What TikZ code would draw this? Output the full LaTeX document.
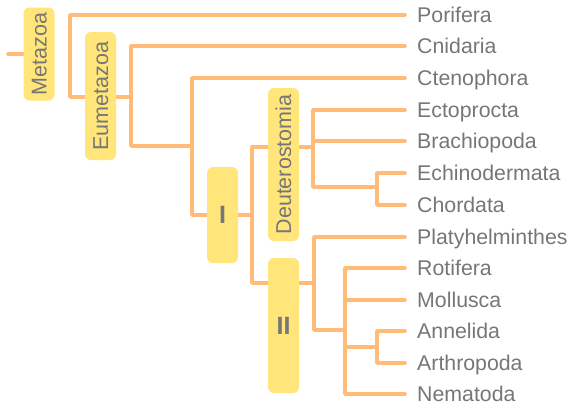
\documentclass[tikz,border=0pt]{standalone}
\usepackage{fontspec}
\setmainfont{Liberation Sans}
\usetikzlibrary{backgrounds}
\definecolor{branchc}{HTML}{FFBB78}
\definecolor{boxc}{HTML}{FFE57A}
\definecolor{textc}{HTML}{767676}
\tikzset{
  branch/.style={draw=branchc, line width=3.5pt, line cap=round, line join=round},
  leaf/.style={anchor=west, inner xsep=12pt, inner ysep=0pt, text height=15pt, text depth=0pt, text=textc, font=\fontsize{21.3}{21.3}\selectfont},
  clade/.style={fill=boxc, rounded corners=6pt, rotate=90, minimum height=31pt, inner sep=0pt, text height=15pt, text depth=0pt, text=textc, font=\fontsize{21.5}{21.5}\selectfont},
  roman/.style={fill=boxc, rounded corners=6pt, minimum width=31pt, inner sep=0pt, text=textc, font=\fontsize{25}{25}\selectfont\bfseries}
}
\begin{document}
\begin{tikzpicture}[x=1pt,y=-1pt]
\useasboundingbox (0,0) rectangle (569,410);
% leaves
\node[leaf] (Por) at (405,15) {Porifera};
\node[leaf] (Cni) at (405,46) {Cnidaria};
\node[leaf] (Cte) at (405,78) {Ctenophora};
\node[leaf] (Ect) at (405,110) {Ectoprocta};
\node[leaf] (Bra) at (405,141) {Brachiopoda};
\node[leaf] (Ech) at (405,173) {Echinodermata};
\node[leaf] (Cho) at (405,205) {Chordata};
\node[leaf] (Pla) at (405,237) {Platyhelminthes};
\node[leaf] (Rot) at (405,268) {Rotifera};
\node[leaf] (Mol) at (405,300) {Mollusca};
\node[leaf] (Ann) at (405,331) {Annelida};
\node[leaf] (Art) at (405,363) {Arthropoda};
\node[leaf] (Nem) at (405,394) {Nematoda};
% clade boxes
\node[clade, minimum width=93pt] (Meta) at (39,54) {Metazoa};
\node[clade, minimum width=128pt] (Eume) at (100.5,96) {Eumetazoa};
\node[roman, minimum height=96pt] (One) at (222.5,215) {I};
\node[clade, minimum width=153pt] (Deut) at (283.5,164.5) {Deuterostomia};
\node[roman, minimum height=135pt] (Two) at (283.5,325.5) {II};
% junction coordinates
\coordinate (root) at (8,54);
\coordinate (jM) at (70,97);
\coordinate (jE) at (131,146);
\coordinate (jC) at (192,215);
\coordinate (jI) at (252,147);
\coordinate (jIb) at (252,283);
\coordinate (jD) at (313,187);
\coordinate (jDD) at (377,205);
\coordinate (jII) at (314,330);
\coordinate (jP) at (345,394);
\coordinate (jAA) at (377,363);
\begin{pgfonlayer}{background}
\draw[branch] (root) -- (Meta.center);
\draw[branch] (Por.west) -| (jM) -- (jE |- jM);
\draw[branch] (Cni.west) -| (jE) -- (jC |- jE);
\draw[branch] (Cte.west) -| (jC) -- (jI |- jC);
\draw[branch] (jI) -- (jIb) -- (jII |- jIb);
\draw[branch] (jI) -- (jD |- jI);
\draw[branch] (Ect.west) -| (jD) -- (jDD |- jD);
\draw[branch] (Bra.west) -- (jD |- Bra.west);
\draw[branch] (Ech.west) -| (jDD) -- (Cho.west);
\draw[branch] (Pla.west) -| (jII) -- (jP |- jII);
\draw[branch] (Rot.west) -| (jP) -- (Nem.west);
\draw[branch] (Mol.west) -- (jP |- Mol.west);
\draw[branch] (jP |- 0,347) -- (jAA |- 0,347);
\draw[branch] (Ann.west) -| (jAA) -- (Art.west);
\end{pgfonlayer}
\end{tikzpicture}
\end{document}
